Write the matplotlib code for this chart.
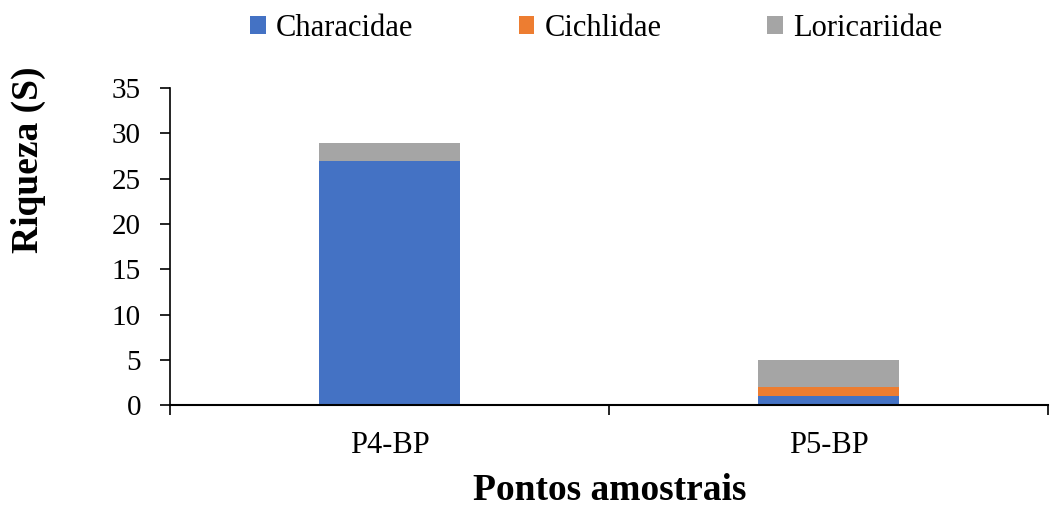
import matplotlib
matplotlib.use("Agg")
import matplotlib.pyplot as plt
import numpy as np

plt.rcParams['font.family'] = ['Liberation Serif', 'DejaVu Serif']

categories = ["P4-BP", "P5-BP"]
characidae = [27, 1]
cichlidae = [0, 1]
loricariidae = [2, 3]

colors = {"Characidae": "#4472C4", "Cichlidae": "#ED7D31", "Loricariidae": "#A5A5A5"}

fig = plt.figure(figsize=(10.5, 5.07), dpi=100)
ax = fig.add_axes([0.162, 0.201, 0.836, 0.625])

x = np.arange(len(categories))
w = 0.32
b1 = ax.bar(x, characidae, w, color=colors["Characidae"], label="Characidae")
b2 = ax.bar(x, cichlidae, w, bottom=characidae, color=colors["Cichlidae"], label="Cichlidae")
bottom3 = np.array(characidae) + np.array(cichlidae)
b3 = ax.bar(x, loricariidae, w, bottom=bottom3, color=colors["Loricariidae"], label="Loricariidae")

ax.set_xlim(-0.5, 1.5)
ax.set_ylim(0, 35)
ax.set_yticks(range(0, 36, 5))
ax.set_xticks(x)
ax.set_xticklabels(categories)
ax.tick_params(axis='x', which='major', length=0, pad=19, labelsize=22)
ax.set_xticks([-0.5, 0.5, 1.5], minor=True)
ax.tick_params(axis='x', which='minor', length=7, width=1.2, direction='out')
ax.tick_params(axis='y', length=7, width=1.2, labelsize=21, pad=14)

for s in ['top', 'right']:
    ax.spines[s].set_visible(False)
ax.spines['left'].set_linewidth(1.2)
ax.spines['bottom'].set_linewidth(1.5)

fig.text(610 / 1050, 1 - 491 / 507, "Pontos amostrais", fontsize=27, fontweight='bold',
         ha='center', va='center')
fig.text(28 / 1050, 1 - 160 / 507, "Riqueza (S)", fontsize=27, fontweight='bold',
         ha='center', va='center', rotation=90)

fig.legend(handles=[b1, b2, b3], labels=["Characidae", "Cichlidae", "Loricariidae"],
           loc='upper center', bbox_to_anchor=(0.568, 1.027), ncol=3, frameon=False,
           fontsize=22, handlelength=0.5, handleheight=0.5, handletextpad=0.35,
           columnspacing=3.45)

fig.savefig("out.png", dpi=100)
